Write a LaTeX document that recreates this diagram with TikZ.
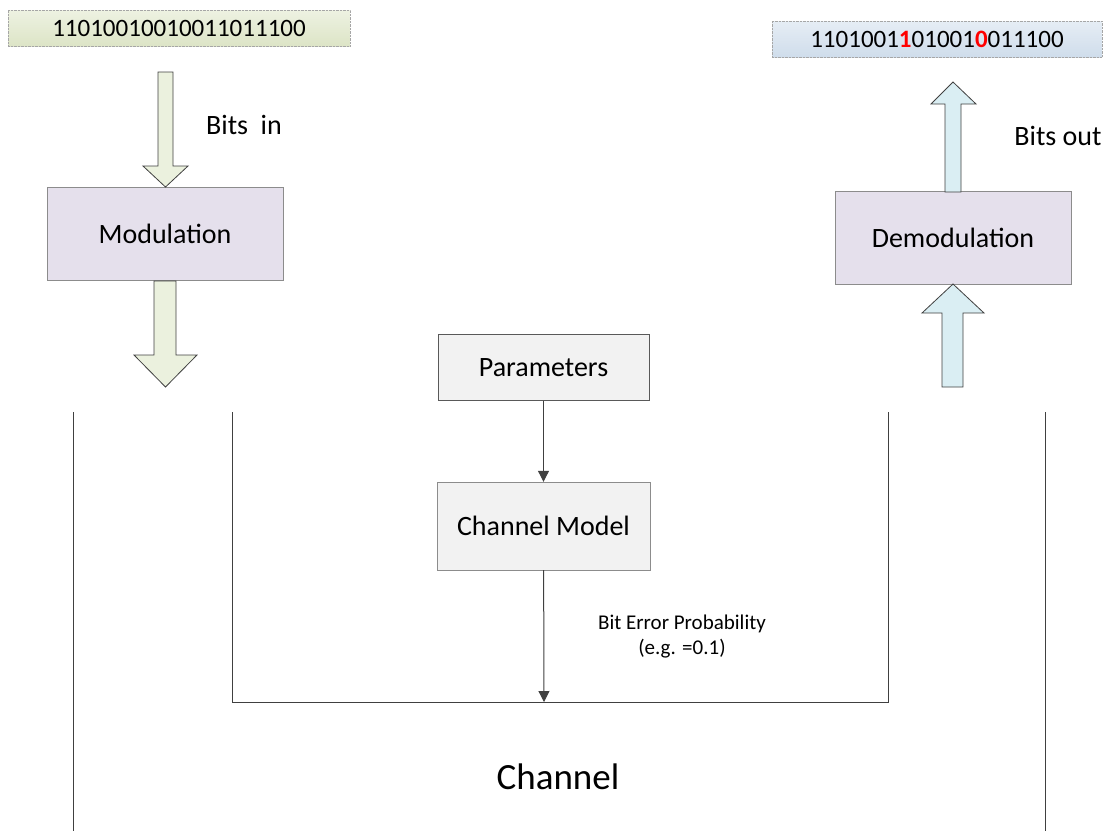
\documentclass[tikz,border=0pt]{standalone}
\usepackage{fontspec}
\setmainfont{Carlito}
\usetikzlibrary{arrows.meta}
\definecolor{bitsgreen}{HTML}{EEF2E2}
\definecolor{bitsgreendk}{HTML}{DCE4C6}
\definecolor{bitsblue}{HTML}{E6EDF5}
\definecolor{bitsbluedk}{HTML}{CFDDEB}
\definecolor{procfill}{HTML}{E5E0EC}
\definecolor{chanfill}{HTML}{F2F2F2}
\definecolor{arrgreen}{HTML}{EBF1DE}
\definecolor{arrblue}{HTML}{DAEEF3}
\definecolor{edge}{HTML}{404040}
\definecolor{errred}{HTML}{FF0000}
\tikzset{
  bitsbox/.style={draw=gray!70, densely dotted, minimum height=36pt,
    font=\fontsize{25}{30}\selectfont},
  procbox/.style={draw=gray!90, fill=procfill, minimum width=236pt,
    minimum height=93pt, font=\fontsize{28}{33}\selectfont},
  chanbox/.style={fill=chanfill, font=\fontsize{28}{33}\selectfont},
  fatarrow/.style={draw=edge, line width=0.8pt, line join=miter},
  thin/.style={draw=edge, line width=1pt},
  tip/.style={-{Triangle[width=11pt,length=11pt]}}
}
\begin{document}
\begin{tikzpicture}[x=1pt,y=-1pt]
  \useasboundingbox (0,0) rectangle (1108,831);
  % input and output bit strings
  \node [bitsbox, shade, top color=bitsgreen, bottom color=bitsgreendk,
         minimum width=342pt] (bitsin) at (179,28) {11010010010011011100};
  \node [bitsbox, shade, top color=bitsblue, bottom color=bitsbluedk,
         minimum width=330pt] (bitsout) at (937,39)
        {1101001\textcolor{errred}{\textbf{1}}01001\textcolor{errred}{\textbf{0}}011100};
  % transmitter and receiver
  \node [procbox] (mod) at (165,234) {Modulation};
  \node [procbox] (demod) at (953,238) {Demodulation};
  % block arrows
  \filldraw [fatarrow, fill=arrgreen] (158,72) -- (173,72) -- (173,166) -- (188,166)
    -- (165.5,187) -- (143,166) -- (158,166) -- cycle;
  \filldraw [fatarrow, fill=arrgreen] (154,281) -- (176,281) -- (176,355) -- (197,355)
    -- (165.5,387) -- (134,355) -- (154,355) -- cycle;
  \filldraw [fatarrow, fill=arrblue] (945,192) -- (961,192) -- (961,104) -- (976,104)
    -- (953,82) -- (931,104) -- (945,104) -- cycle;
  \filldraw [fatarrow, fill=arrblue] (942,387) -- (963,387) -- (963,313) -- (984,313)
    -- (953,284) -- (922,313) -- (942,313) -- cycle;
  \node [font=\fontsize{28}{33}\selectfont] (bitsinlbl) at (244,125) {Bits\ \ in};
  \node [font=\fontsize{28}{33}\selectfont] (bitsoutlbl) at (1058,136) {Bits out};
  % channel
  \node [chanbox, draw=gray!130, minimum width=211pt, minimum height=66pt] (params)
        at (543.5,367.5) {Parameters};
  \node [chanbox, draw=gray!90, minimum width=213pt, minimum height=88pt] (model)
        at (543.5,526) {Channel Model};
  \coordinate (inl) at (232,412);
  \coordinate (inr) at (888,412);
  \coordinate (bl) at (232,702);
  \coordinate (br) at (888,702);
  \coordinate (hit) at (544,702);
  \draw [thin] (inl) -- (bl) -- (br) -- (inr);
  \draw [thin] (73,412) -- (73,831);
  \draw [thin] (1045,412) -- (1045,831);
  \draw [thin, tip] (params) -- (model);
  \draw [thin, tip] (model) -- (hit);
  \node [font=\fontsize{21}{25}\selectfont, align=center] (ber) at (682,637)
        {Bit Error Probability\\(e.g. =0.1)};
  \node [font=\fontsize{37}{44}\selectfont] (chan) at (558,777) {Channel};
\end{tikzpicture}
\end{document}
